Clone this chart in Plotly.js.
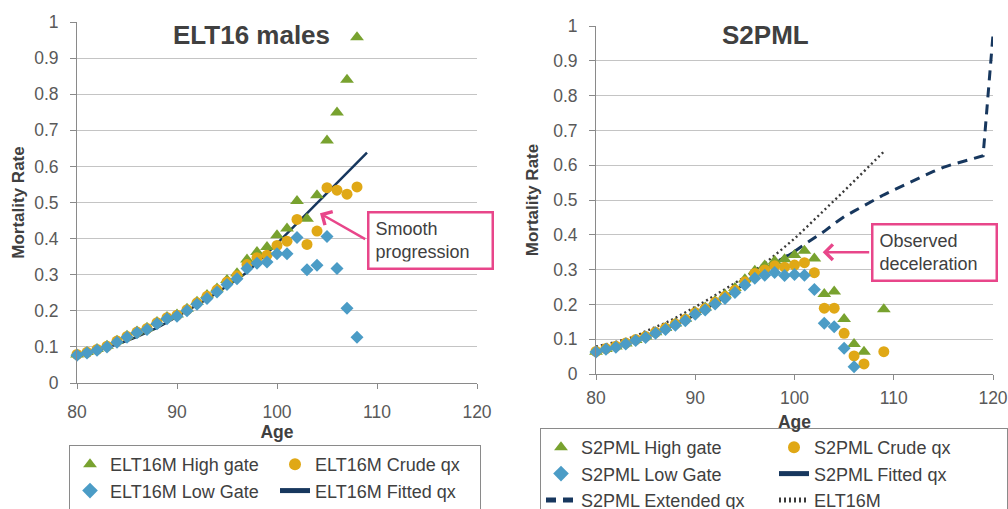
<!DOCTYPE html>
<html><head><meta charset="utf-8">
<script src="https://cdn.plot.ly/plotly-3.0.1.min.js"></script>
<style>
body{margin:0;background:#fff;width:1008px;height:509px;overflow:hidden;position:relative}
#c1{position:absolute;left:0;top:0;width:504px;height:560px}
#c2{position:absolute;left:504px;top:0;width:504px;height:560px}
</style>
</head><body><div id="c1"></div><div id="c2"></div>
<script>
// ---------- data ----------
const ages = [80,81,82,83,84,85,86,87,88,89,90,91,92,93,94,95,96,97,98,99,100,101,102,103,104,105,106,107,108,109];

// ELT16 males
const eltHigh  = [0.079,0.086,0.094,0.103,0.117,0.131,0.143,0.153,0.169,0.183,0.190,0.206,0.225,0.244,0.262,0.285,0.304,0.342,0.363,0.377,0.409,0.428,0.504,0.455,0.520,0.672,0.749,0.840,0.958,null];
const eltCrude = [0.079,0.085,0.093,0.102,0.116,0.129,0.141,0.151,0.167,0.181,0.188,0.203,0.222,0.240,0.258,0.280,0.297,0.328,0.347,0.354,0.381,0.393,0.453,0.384,0.421,0.541,0.534,0.523,0.543,null];
const eltLow   = [0.077,0.083,0.091,0.100,0.113,0.127,0.139,0.148,0.164,0.178,0.185,0.200,0.218,0.234,0.252,0.273,0.289,0.317,0.332,0.335,0.358,0.358,0.403,0.314,0.326,0.406,0.317,0.207,0.127,null];
const eltFitted= [0.077,0.083,0.090,0.098,0.107,0.117,0.128,0.140,0.153,0.168,0.184,0.199,0.215,0.232,0.250,0.268,0.287,0.307,0.332,0.359,0.386,0.414,0.441,0.470,0.498,0.525,0.553,0.580,0.609,0.638];

// S2PML
const s2High  = [0.064,0.072,0.079,0.088,0.098,0.108,0.120,0.132,0.145,0.159,0.178,0.191,0.210,0.228,0.247,0.272,0.297,0.312,0.325,0.330,0.342,0.354,0.332,0.230,0.237,0.158,0.086,0.064,null,0.186];
const s2Crude = [0.065,0.073,0.080,0.089,0.099,0.108,0.120,0.132,0.144,0.157,0.176,0.188,0.206,0.223,0.241,0.265,0.289,0.299,0.311,0.307,0.313,0.320,0.291,0.189,0.189,0.117,0.052,0.029,null,0.064];
const s2Low   = [0.063,0.071,0.077,0.086,0.096,0.105,0.117,0.128,0.140,0.153,0.172,0.184,0.201,0.217,0.234,0.256,0.275,0.284,0.292,0.283,0.286,0.284,0.243,0.146,0.136,0.074,0.021,null,null,null];
const s2FitAges = [80,81,82,83,84,85,86,87,88,89,90,91,92,93,94,95,96,97,98,99,100];
const s2Fitted  = [0.064,0.071,0.078,0.086,0.095,0.105,0.116,0.128,0.141,0.155,0.170,0.186,0.203,0.221,0.240,0.260,0.281,0.302,0.318,0.335,0.352];
const s2ExtAges = [97,98,99,100,101,102,103,104,105,106,107,108,109,110,111,112,113,114,115,116,117,118,119,120];
const s2Extended= [0.302,0.318,0.335,0.352,0.372,0.390,0.410,0.432,0.452,0.468,0.484,0.500,0.515,0.529,0.543,0.556,0.569,0.582,0.594,0.603,0.611,0.619,0.627,0.975];
const elt16m    = [0.079,0.085,0.092,0.100,0.109,0.123,0.134,0.147,0.161,0.176,0.193,0.209,0.226,0.243,0.261,0.279,0.298,0.318,0.341,0.365,0.389,0.416,0.443,0.471,0.499,0.526,0.554,0.582,0.610,0.639];

// ---------- styles ----------
const FONT = 'Liberation Sans, Arial, sans-serif';
const GREEN = '#78A22F', GOLD = '#E0A816', BLUE = '#4B9CC6', NAVY = '#17375E', PINK = '#E8468A';
const TXT = '#404040', TICK = '#595959', AX = '#8a8a8a';

function xAxis(standoff, titleStandoff){
  return {range:[80,120], tick0:80, dtick:10, showgrid:false, zeroline:false,
    showline:true, linecolor:AX, linewidth:1, ticks:'outside', ticklen:5, tickcolor:AX,
    tickfont:{size:17.5,color:TICK}, ticklabelstandoff:standoff, automargin:false,
    title:{text:'<b>Age</b>', font:{size:17.5,color:TXT}, standoff:titleStandoff}};
}
function yAxis(titleStandoff){
  return {range:[0,1], tick0:0, dtick:0.1, showgrid:true, gridcolor:'#c4c4c4', gridwidth:1,
    zeroline:false, showline:true, linecolor:AX, linewidth:1, ticks:'outside', ticklen:6, tickcolor:AX,
    tickfont:{size:17.5,color:TICK}, ticklabelstandoff:8, automargin:false,
    title:{text:'<b>Mortality Rate</b>', font:{size:17,color:TXT}, standoff:titleStandoff}};
}
function mk(x,y,name,sym,size,color,rank){
  return {x:x,y:y,name:name,type:'scatter',mode:'markers',cliponaxis:false,legendrank:rank,
    marker:{symbol:sym,size:size,color:color,line:{width:0}}};
}
function ln(x,y,name,color,width,dash,rank){
  return {x:x,y:y,name:name,type:'scatter',mode:'lines',cliponaxis:false,legendrank:rank,
    line:{color:color,width:width,dash:dash}};
}
function legendCfg(x,y,ew){
  return {orientation:'h', x:x, xanchor:'left', y:y, yanchor:'top', yref:'paper',
    bordercolor:AX, borderwidth:1, bgcolor:'white', entrywidth:ew, entrywidthmode:'pixels',
    font:{size:18,color:TXT}, traceorder:'normal', itemsizing:'constant'};
}
function arrow(x,y,ax,ay){
  return {x:x,y:y,xref:'x',yref:'y',text:'',showarrow:true,ax:ax,ay:ay,
    arrowcolor:PINK,arrowwidth:2.5,arrowhead:4,arrowsize:1.2,standoff:0,startstandoff:0};
}
function box(x,y,text){
  return {x:x,y:y,xref:'x',yref:'y',text:text,showarrow:false,align:'left',valign:'middle',
    xanchor:'center',yanchor:'middle',width:110,height:42,borderpad:6,
    bordercolor:PINK,borderwidth:2.5,bgcolor:'white',font:{size:18,color:TXT}};
}
function title(x,y,text){
  return {x:x,y:y,xref:'paper',yref:'paper',text:'<b>'+text+'</b>',showarrow:false,
    xanchor:'center',yanchor:'middle',bgcolor:'white',borderpad:4,font:{size:26,color:TXT}};
}

// ---------- left chart ----------
const tr1 = [
  ln(ages, eltFitted, 'ELT16M Fitted qx', NAVY, 2.5, 'solid', 4),
  mk(ages, eltHigh,  'ELT16M High gate', 'triangle-up', 12, GREEN, 1),
  mk(ages, eltCrude, 'ELT16M Crude qx', 'circle', 11, GOLD, 2),
  mk(ages, eltLow,   'ELT16M Low Gate', 'diamond', 10, BLUE, 3)
];
const lay1 = {
  width:504, height:560, margin:{l:77,r:27,t:22,b:177},
  paper_bgcolor:'white', plot_bgcolor:'white', font:{family:FONT,color:TXT},
  xaxis:xAxis(8,3), yaxis:yAxis(5), showlegend:true,
  legend:legendCfg(-0.02,-0.1717,160),
  annotations:[
    title(0.435,0.964,'ELT16 males'),
    arrow(104.3,0.470,46.7,26.7),
    box(115.35,0.3947,'Smooth<br>progression')
  ]
};

// ---------- right chart ----------
const tr2 = [
  ln(s2FitAges, s2Fitted, 'S2PML Fitted qx', NAVY, 2.5, 'solid', 4),
  ln(s2ExtAges, s2Extended, 'S2PML Extended qx', NAVY, 3, '10px,7px', 5),
  ln(ages, elt16m, 'ELT16M', '#3a3a3a', 2.4, '2px,3px', 6),
  mk(ages, s2High,  'S2PML High gate', 'triangle-up', 12, GREEN, 1),
  mk(ages, s2Crude, 'S2PML Crude qx', 'circle', 11, GOLD, 2),
  mk(ages, s2Low,   'S2PML Low Gate', 'diamond', 10, BLUE, 3)
];
const lay2 = {
  width:504, height:560, margin:{l:92,r:15,t:26,b:186},
  paper_bgcolor:'white', plot_bgcolor:'white', font:{family:FONT,color:TXT},
  xaxis:xAxis(3,8), yaxis:yAxis(10), showlegend:true,
  legend:legendCfg(-0.137,-0.1552,188),
  annotations:[
    title(0.428,0.974,'S2PML'),
    arrow(102.84,0.35,48,0),
    box(114.08,0.35,'Observed<br>deceleration')
  ]
};

const cfg = {staticPlot:true, displayModeBar:false};
Plotly.newPlot('c1', tr1, lay1, cfg);
Plotly.newPlot('c2', tr2, lay2, cfg);
</script>
</body></html>
